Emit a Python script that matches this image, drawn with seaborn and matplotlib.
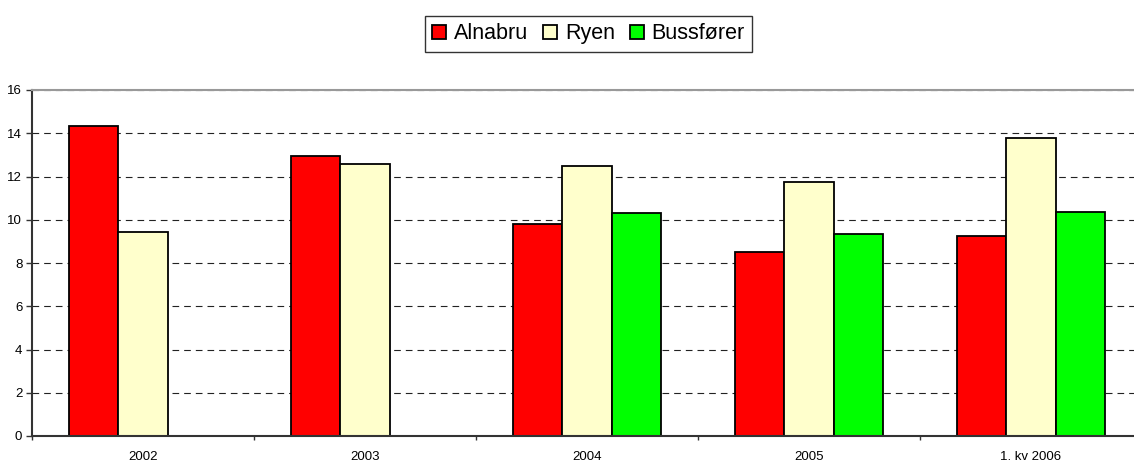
import numpy as np
import pandas as pd
import matplotlib
matplotlib.use("Agg")
import matplotlib.pyplot as plt
import seaborn as sns

# Data
perioder = ["2002", "2003", "2004", "2005", "1. kv 2006"]
serier = ["Alnabru", "Ryen", "Bussfører"]
alnabru = [14.35, 12.95, 9.8, 8.5, 9.25]
ryen = [9.45, 12.6, 12.5, 11.75, 13.8]
bussforer = [np.nan, np.nan, 10.3, 9.35, 10.35]
farger = ["#FF0000", "#FFFFCC", "#00FF00"]

df = pd.DataFrame({
    "Periode": perioder * 3,
    "Serie": [s for s in serier for _ in perioder],
    "Verdi": alnabru + ryen + bussforer,
})

sns.set_style("white")
plt.rcParams["font.family"] = ["Liberation Sans", "DejaVu Sans"]
plt.rcParams["text.color"] = "black"
plt.rcParams["xtick.color"] = "black"
plt.rcParams["ytick.color"] = "black"

fig = plt.figure(figsize=(11.34, 4.63), dpi=100)
ax = fig.add_axes([32 / 1134, 1 - 436 / 463, 1110 / 1134, 346 / 463])

sns.barplot(data=df, x="Periode", y="Verdi", hue="Serie", order=perioder,
            hue_order=serier, palette=farger, width=0.665, gap=0,
            edgecolor="black", linewidth=1.3, saturation=1, ax=ax, legend=False)

ax.set_xlim(-0.5, 4.5)
ax.set_ylim(0, 16)
ax.set_yticks(range(0, 17, 2))
ax.yaxis.grid(True, color="#222222", linestyle=(0, (6, 4.5)), linewidth=0.8)
ax.set_axisbelow(True)
ax.set_xlabel("")
ax.set_ylabel("")

# kategorigrenser som hovedmerker, etiketter som sekundære
ax.set_xticks(np.arange(-0.5, 5, 1))
ax.set_xticklabels([])
ax.set_xticks(range(len(perioder)), perioder, minor=True)
ax.tick_params(axis="x", which="major", direction="out", length=3, width=1, color="#333333", bottom=True)
ax.tick_params(axis="x", which="minor", length=0, pad=11, labelsize=9.5)
ax.tick_params(axis="y", direction="out", length=4, width=1, color="#333333", left=True, labelsize=9.5, pad=3)

for side in ["left", "bottom"]:
    ax.spines[side].set_color("#333333")
    ax.spines[side].set_linewidth(1.5)
ax.spines["top"].set_color("#999999")
ax.spines["top"].set_linewidth(1.5)
ax.spines["right"].set_visible(False)

handles = [plt.Rectangle((0, 0), 1, 1, facecolor=c, edgecolor="black", linewidth=1.3) for c in farger]
leg = fig.legend(handles, serier, loc="center", bbox_to_anchor=(0.519, 0.927), ncol=3,
                 fontsize=15.5, frameon=True, fancybox=False, edgecolor="black",
                 handlelength=0.65, handleheight=0.65, handletextpad=0.35,
                 columnspacing=0.7, borderpad=0.35)
leg.get_frame().set_linewidth(1.0)

fig.savefig("out.png", dpi=100)
